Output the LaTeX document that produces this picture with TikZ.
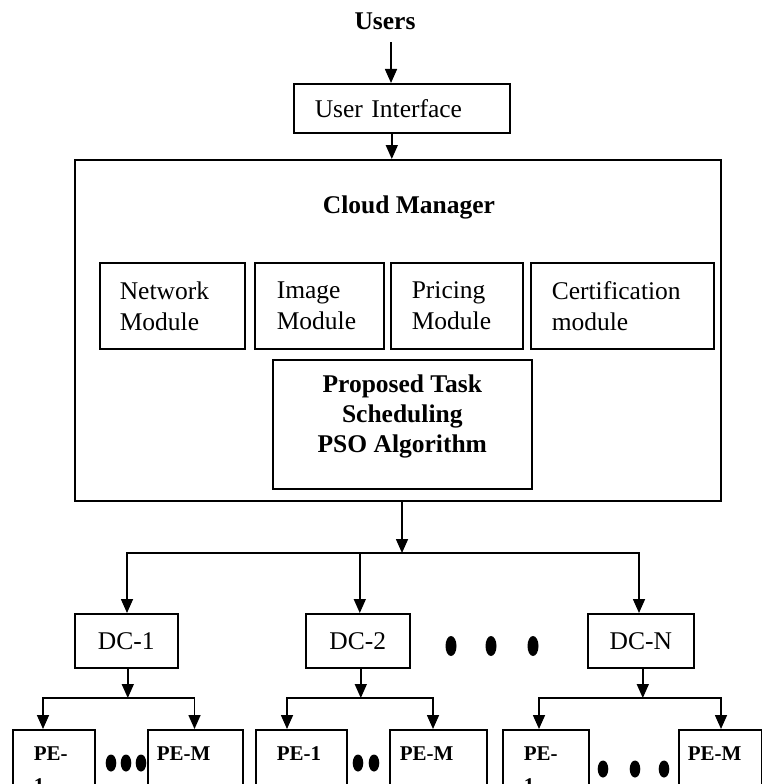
\documentclass[tikz,border=0pt]{standalone}
\usepackage{fontspec}
\setmainfont{Liberation Serif}
\usetikzlibrary{positioning,arrows.meta}
\newcommand*{\txtfont}{\fontsize{25.5}{31}\selectfont}
\newcommand*{\algfont}{\fontsize{25.5}{30}\selectfont}
\newcommand*{\pefont}{\fontsize{21}{32}\selectfont}
\tikzset{%
  block/.style={draw, rectangle, line width=1.6pt, inner sep=0pt, anchor=north west},% outlined box
  module/.style={block, font=\txtfont, align=left},% box with left aligned text
  title/.style={inner sep=0pt, font=\bfseries\txtfont},% bold heading
  pe/.style={block, font=\bfseries\pefont, align=left, minimum height=80pt},% processing element
  peone/.style={pe, text depth=32pt},% processing element, one line
  link/.style={line width=1.6pt, line cap=rect},% plain connector
  arr/.style={line width=1.6pt, -{Triangle[length=14pt,width=12pt]}},% arrow connector
  dot/.style={fill=black}% ellipsis dots
}

\begin{document}
\begin{tikzpicture}[x=1pt, y=-1pt]
\useasboundingbox (0,0) rectangle (762,784);
\clip (0,0) rectangle (762,784);

% users and interface
\node[title, anchor=base] (users) at (385,30) {Users};
\node[module, minimum width=216pt, minimum height=49pt, text width=174pt] (ui) at (293,83) {User Interface};

% cloud manager
\node[block, minimum width=646pt, minimum height=341pt] (cloud) at (74,159) {};
\node[title, anchor=base] (cmtitle) at (409,213) {Cloud Manager};
\node[module, minimum width=145pt, minimum height=86pt, text width=105pt] (net) at (99,262) {Network\\Module};
\node[module, minimum width=129pt, minimum height=86pt, text width=85pt] (img) at (254,262) {Image\\Module};
\node[module, minimum width=132pt, minimum height=86pt, text width=90pt] (price) at (390,262) {Pricing\\Module};
\node[module, minimum width=183pt, minimum height=86pt, text width=141pt] (cert) at (530,262) {Certification\\module};
\node[block, minimum width=259pt, minimum height=129pt] (pso) at (272,359) {};
\node[title, font=\bfseries\algfont, align=center, anchor=north] (psotext) at ([yshift=-15.7pt]pso.north) {Proposed Task\\Scheduling\\PSO Algorithm};

% data centers
\node[module, align=center, minimum width=103pt, minimum height=54pt] (dc1) at (74,613) {DC-1};
\node[module, align=center, minimum width=104pt, minimum height=54pt] (dc2) at (305,613) {DC-2};
\node[module, align=center, minimum width=106pt, minimum height=54pt] (dcn) at (587,613) {DC-N};

% processing elements
\node[pe, minimum width=82pt, text width=40pt] (pe1a) at (12,729) {PE-\\1};
\node[peone, minimum width=95pt, text width=77pt] (pema) at (147,729) {PE-M};
\node[peone, minimum width=91pt, text width=49pt] (pe1b) at (255,729) {PE-1};
\node[peone, minimum width=97pt, text width=77pt] (pemb) at (389,729) {PE-M};
\node[pe, minimum width=86pt, text width=44pt] (pe1c) at (502,729) {PE-\\1};
\node[peone, minimum width=83pt, text width=65pt] (pemc) at (678,729) {PE-M};

% top arrows
\draw[arr, shorten <=12pt] ([xshift=6pt]users.south) -- ([xshift=6pt]users.south |- ui.north);
\draw[arr] ([xshift=-10pt]ui.south) -- ([xshift=-10pt]ui.south |- cloud.north);

% manager to data centers
\coordinate (split) at (402,553);
\coordinate (dcl) at (127,553);
\coordinate (dcr) at (639,553);
\draw[arr] (split |- cloud.south) -- (split);
\draw[link] (dcl) -- (dcr);
\draw[arr] (dcl) -- (dcl |- dc1.north);
\draw[arr] ([xshift=2pt]dc2.north |- dcl) -- ([xshift=2pt]dc2.north);
\draw[arr] (dcr) -- (dcr |- dcn.north);

% data centers to processing elements
\coordinate (pl1) at (43,698);
\coordinate (pr1) at (194.5,698);
\coordinate (pl2) at (287,698);
\coordinate (pr2) at (433,698);
\coordinate (pl3) at (539,698);
\coordinate (pr3) at (721,698);
\draw[arr] ([xshift=1.5pt]dc1.south) -- ([xshift=1.5pt]dc1.south |- pl1);
\draw[arr] ([xshift=3pt]dc2.south) -- ([xshift=3pt]dc2.south |- pl2);
\draw[arr] ([xshift=2pt]dcn.south) -- ([xshift=2pt]dcn.south |- pl3);
\draw[link] (pl1) -- (pr1);
\draw[link] (pl2) -- (pr2);
\draw[link] (pl3) -- (pr3);
\draw[arr] (pl1) -- (pl1 |- pe1a.north);
\draw[arr] (pr1) -- (pr1 |- pema.north);
\draw[arr] (pl2) -- (pl2 |- pe1b.north);
\draw[arr] (pr2) -- (pr2 |- pemb.north);
\draw[arr] (pl3) -- (pl3 |- pe1c.north);
\draw[arr] (pr3) -- (pr3 |- pemc.north);

% dots
\fill[dot] (451,646) ellipse [x radius=5.5pt, y radius=10pt];
\fill[dot] (491,646) ellipse [x radius=5.5pt, y radius=10pt];
\fill[dot] (533,646) ellipse [x radius=5.5pt, y radius=10pt];
\fill[dot] (111,763) ellipse [x radius=5.3pt, y radius=8.5pt];
\fill[dot] (126,763) ellipse [x radius=5.3pt, y radius=8.5pt];
\fill[dot] (141,763) ellipse [x radius=5.3pt, y radius=8.5pt];
\fill[dot] (358,763) ellipse [x radius=5.3pt, y radius=8.5pt];
\fill[dot] (374,763) ellipse [x radius=5.3pt, y radius=8.5pt];
\fill[dot] (603,769) ellipse [x radius=5.3pt, y radius=8.5pt];
\fill[dot] (635,769) ellipse [x radius=5.3pt, y radius=8.5pt];
\fill[dot] (664,769) ellipse [x radius=5.3pt, y radius=8.5pt];
\end{tikzpicture}
\end{document}
